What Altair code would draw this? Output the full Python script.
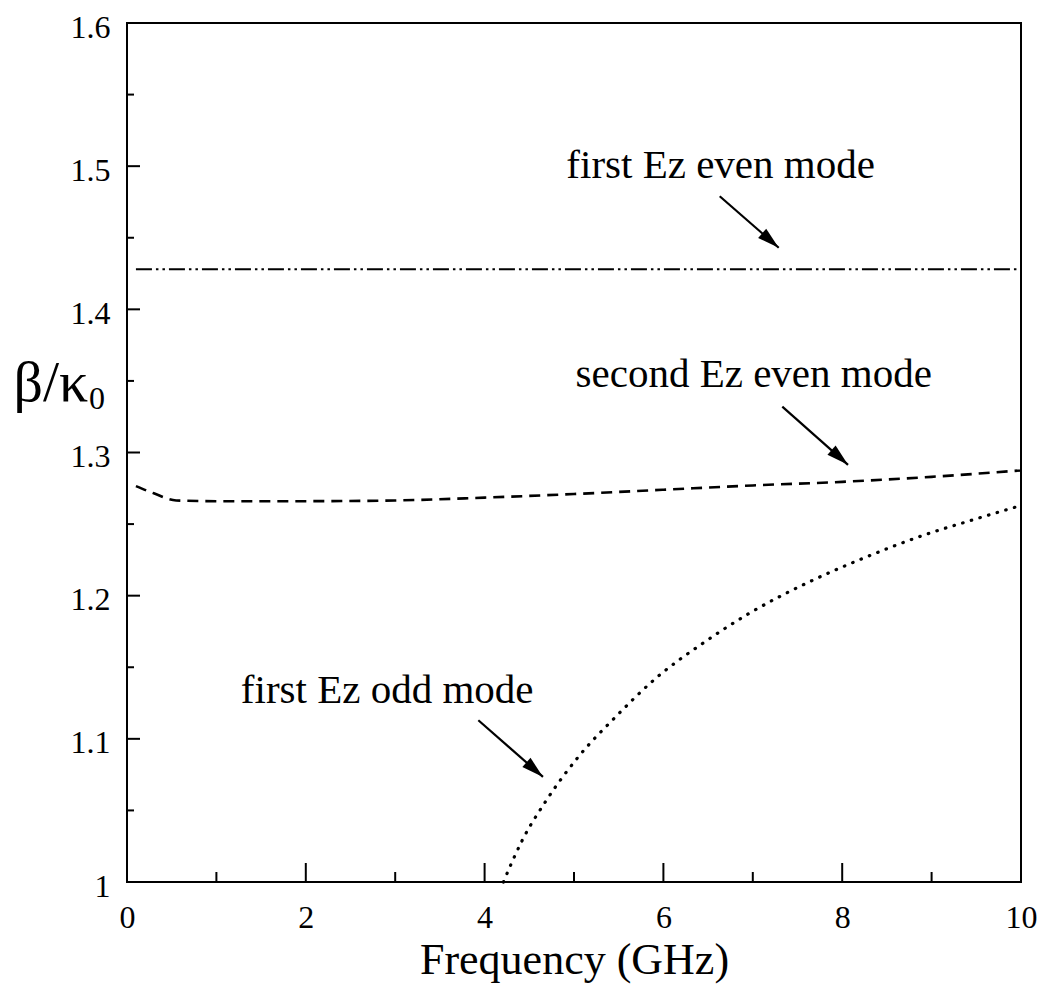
import math
import altair as alt
import pandas as pd

# ---- dispersion curves (frequency in GHz, normalised propagation constant) ----
freq_even1 = [0.1, 2.0, 4.0, 6.0, 8.0, 10.0]
beta_even1 = [1.428, 1.428, 1.428, 1.428, 1.428, 1.428]

freq_even2 = [0.1, 0.3, 0.55, 1.0, 2.0, 3.0, 4.0, 5.0, 6.0, 7.0, 8.0, 9.0, 10.0]
beta_even2 = [1.2765, 1.2715, 1.2665, 1.266, 1.266, 1.2665, 1.2685, 1.271,
              1.274, 1.277, 1.2795, 1.283, 1.2875]

freq_odd = [4.21, 4.42, 4.68, 5.05, 5.46, 5.91, 6.47, 6.97, 7.61, 8.23, 8.90, 9.49, 10.0]
beta_odd = [1.000, 1.029, 1.056, 1.0875, 1.115, 1.142, 1.168, 1.188, 1.209,
            1.226, 1.242, 1.2535, 1.263]

# ---- annotations ----
note_text = ["first Ez even mode", "second Ez even mode", "first Ez odd mode"]
note_freq = [6.64, 7.01, 2.91]
note_beta = [1.492, 1.346, 1.125]

arrow_f0 = [6.63, 7.33, 3.93]
arrow_b0 = [1.479, 1.332, 1.113]
arrow_f1 = [7.29, 8.065, 4.653]
arrow_b1 = [1.443, 1.2914, 1.0734]

# ---- axis ticks ----
x_labels = [0, 2, 4, 6, 8, 10]
y_labels = [1.0, 1.1, 1.2, 1.3, 1.4, 1.5, 1.6]
x_major = [2, 4, 6, 8]
x_minor = [1, 3, 5, 7, 9]
y_major = [1.1, 1.2, 1.3, 1.4, 1.5]
y_minor = [1.05, 1.15, 1.25, 1.35, 1.45, 1.55]

W, H = 894, 859
FONT = "Liberation Serif"
X_DOMAIN = [0, 10]
Y_DOMAIN = [1.0, 1.6]

x_scale = alt.Scale(domain=X_DOMAIN, nice=False, zero=False)
y_scale = alt.Scale(domain=Y_DOMAIN, nice=False, zero=False)

x_axis = alt.Axis(
    values=x_labels, format="d", ticks=False, tickSize=0, domain=False, grid=False,
    labelFont=FONT, labelFontSize=32, labelColor="black", labelPadding=20,
    labelFlush=False, labelOverlap=False,
    title="Frequency (GHz)", titleFont=FONT, titleFontSize=44, titleFontWeight="normal",
    titleColor="black", titleBaseline="alphabetic", titleY=91,
)
y_axis = alt.Axis(
    values=y_labels, format="~g", ticks=False, tickSize=0, domain=False, grid=False,
    labelFont=FONT, labelFontSize=32, labelColor="black", labelPadding=17, labelOffset=4,
    labelFlush=False, labelOverlap=False,
    title="β/κ", titleFont=FONT, titleFontSize=58, titleFontWeight="normal",
    titleColor="black", titleAngle=0, titleAlign="left", titleBaseline="alphabetic",
    titleX=-114, titleY=377,
)


def X(field):
    return alt.X(f"{field}:Q", scale=x_scale, axis=x_axis)


def Y(field):
    return alt.Y(f"{field}:Q", scale=y_scale, axis=y_axis)


even1 = pd.DataFrame({"f": freq_even1, "b": beta_even1})
even2 = pd.DataFrame({"f": freq_even2, "b": beta_even2})
odd = pd.DataFrame({"f": freq_odd, "b": beta_odd})

line_even1 = alt.Chart(even1).mark_line(
    color="black", strokeWidth=2.2, strokeDash=[16, 4, 2.5, 4, 2.5, 4]
).encode(x=X("f"), y=Y("b"))

line_even2 = alt.Chart(even2).mark_line(
    color="black", strokeWidth=2.6, strokeDash=[11, 7], interpolate="monotone"
).encode(x=X("f"), y=Y("b"))

line_odd = alt.Chart(odd).mark_line(
    color="black", strokeWidth=3.2, strokeDash=[0.5, 8.5], strokeCap="round",
    interpolate="monotone"
).encode(x=X("f"), y=Y("b"))

# arrow shafts and heads
px_per_f = W / (X_DOMAIN[1] - X_DOMAIN[0])
px_per_b = H / (Y_DOMAIN[1] - Y_DOMAIN[0])
arrow_angle = [
    math.degrees(math.atan2((b0 - b1) * px_per_b, (f1 - f0) * px_per_f))
    for f0, b0, f1, b1 in zip(arrow_f0, arrow_b0, arrow_f1, arrow_b1)
]
arrows = pd.DataFrame({"f": arrow_f0, "b": arrow_b0, "f1": arrow_f1, "b1": arrow_b1,
                       "ang": arrow_angle})

shafts = alt.Chart(arrows).mark_rule(color="black", strokeWidth=2.2).encode(
    x=X("f"), y=Y("b"), x2="f1:Q", y2="b1:Q"
)
heads = alt.Chart(arrows).mark_point(
    shape="M0,0L-1,-0.28L-1,0.28Z", size=1936, filled=True, color="black",
    opacity=1, strokeWidth=0
).encode(x=X("f1"), y=Y("b1"), angle=alt.Angle("ang:Q", scale=None))

notes = alt.Chart(pd.DataFrame({"f": note_freq, "b": note_beta, "label": note_text})).mark_text(
    font=FONT, fontSize=41, align="center", baseline="alphabetic", color="black"
).encode(x=X("f"), y=Y("b"), text="label:N")


# inward tick marks
def tick_layer(values, axis, length):
    df = pd.DataFrame({"t": values})
    base = alt.Chart(df).mark_rule(color="black", strokeWidth=2)
    if axis == "x":
        return base.encode(x=X("t"), y=alt.value(H), y2=alt.value(H - length))
    return base.encode(y=Y("t"), x=alt.value(0), x2=alt.value(length))


ticks = [
    tick_layer(x_major, "x", 19),
    tick_layer(x_minor, "x", 10),
    tick_layer(y_major, "y", 13),
    tick_layer(y_minor, "y", 7),
]

# subscript of the y-axis title
subscript = alt.Chart(pd.DataFrame({"s": ["0"]})).mark_text(
    font=FONT, fontSize=32, align="left", baseline="alphabetic", color="black"
).encode(text="s:N", x=alt.value(-38), y=alt.value(386))

chart = alt.layer(
    line_even1, line_even2, line_odd, shafts, heads, notes, *ticks, subscript
).properties(
    width=W,
    height=H,
    padding={"left": 127, "top": 23, "right": 21, "bottom": 112},
    autosize=alt.AutoSizeParams(type="none"),
).configure(
    background="white",
    view=alt.ViewConfig(stroke="black", strokeWidth=2),
)

chart.save("out.html", embed_options={"renderer": "svg", "actions": False})
